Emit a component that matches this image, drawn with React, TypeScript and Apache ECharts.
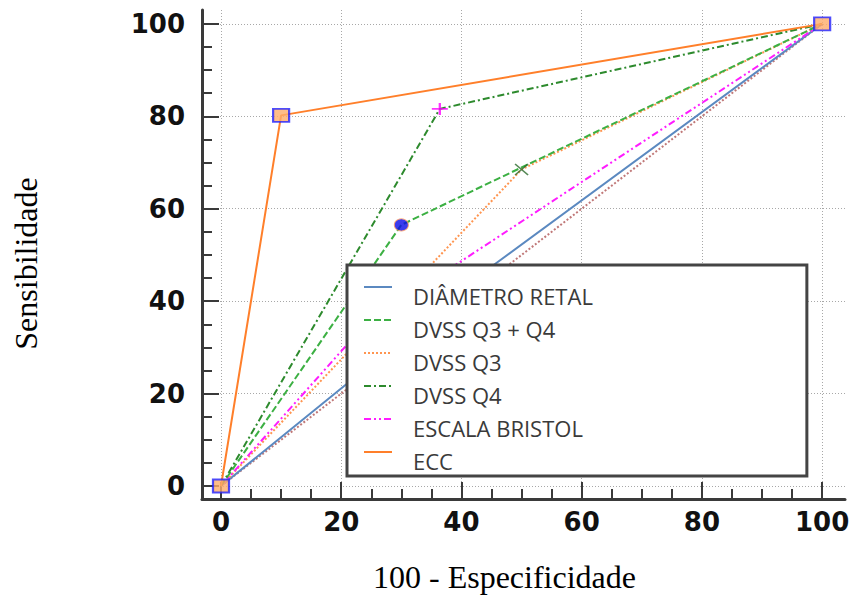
import React, { useEffect, useRef } from "react";
import * as echarts from "echarts";

// ---- data ----
const tickValues = [0, 20, 40, 60, 80, 100];
const seriesNames = ["DIÂMETRO RETAL", "DVSS Q3 + Q4", "DVSS Q3", "DVSS Q4", "ESCALA BRISTOL", "ECC"];

const diametroRetal = [[0, 0], [44.5, 47], [100, 100]];
const dvssQ3Q4 = [[0, 0], [30, 56.5], [100, 100]];
const dvssQ3 = [[0, 0], [50, 68.5], [100, 100]];
const dvssQ4 = [[0, 0], [36.4, 81.6], [100, 100]];
const escalaBristol = [[0, 0], [24, 35], [100, 100]];
const ecc = [[0, 0], [10, 80.2], [100, 100]];
const referenceLine = [[0, 0], [100, 100]];

const eccPoints = [[0, 0], [10, 80.2], [100, 100]];
const q3q4Point = [[30, 56.5]];
const q3Point = [[50, 68.5]];
const q4Point = [[36.4, 81.6]];

const xTitle = "100 - Especificidade";
const yTitle = "Sensibilidade";

export default function App() {
  const ref = useRef<HTMLDivElement>(null);

  useEffect(() => {
    if (!ref.current) return;
    const chart = echarts.init(ref.current, undefined, { renderer: "svg" });

    const axisCommon = {
      type: "value" as const,
      axisLine: { show: true, onZero: false, lineStyle: { color: "#3a3a3a", width: 3 } },
      axisTick: {
        show: true,
        inside: true,
        length: 17,
        customValues: tickValues,
        lineStyle: { color: "#3a3a3a", width: 2 },
      },
      minorTick: { show: true, splitNumber: 4, length: 10, lineStyle: { color: "#3a3a3a", width: 2 } },
      splitLine: { show: true, lineStyle: { color: "#a8a8a8", width: 1, type: [1, 2] } },
      axisLabel: {
        customValues: tickValues,
        formatter: (v: number) => (Math.abs(v % 20) < 1e-9 ? String(v) : ""),
        color: "#111",
        fontFamily: "DejaVu Sans",
        fontWeight: "bold" as const,
        fontSize: 26,
      },
      nameLocation: "middle" as const,
      nameTextStyle: { fontFamily: "Liberation Serif", fontSize: 32, color: "#000" },
    };

    const line = (name: string, data: number[][], color: string, type: any, width = 2) => ({
      name,
      type: "line" as const,
      data,
      symbol: "none",
      showSymbol: false,
      lineStyle: { color, width, type },
      itemStyle: { color },
      z: 3,
    });

    chart.setOption({
      animation: false,
      backgroundColor: "#fff",
      grid: { left: 202, right: 10, top: 10, bottom: 98 },
      xAxis: {
        ...axisCommon,
        min: -3.16,
        max: 103.8,
        name: xTitle,
        nameGap: 62,
        axisLabel: { ...axisCommon.axisLabel, margin: 10 },
        nameTextStyle: { ...axisCommon.nameTextStyle, padding: [0, 38, 0, 0] },
      },
      yAxis: {
        ...axisCommon,
        min: -2.81,
        max: 103.0,
        name: yTitle,
        nameGap: 160,
        axisLabel: { ...axisCommon.axisLabel, margin: 17 },
        nameTextStyle: { ...axisCommon.nameTextStyle, padding: [0, 18, 0, 0] },
      },
      legend: {
        data: seriesNames,
        orient: "vertical",
        left: 347,
        top: 265,
        itemWidth: 28,
        itemHeight: 14,
        itemGap: -7,
        selectedMode: false,
        backgroundColor: "#fff",
        borderColor: "#444",
        borderWidth: 3,
        borderRadius: 0,
        padding: [2, 214, 4, 16],
        itemStyle: { opacity: 0, borderWidth: 0 },
        formatter: "{t|{name}}",
        textStyle: {
          fontFamily: "Open Sans",
          fontSize: 22,
          lineHeight: 22,
          color: "#3a3a3a",
          padding: [18, 0, 0, 16],
          rich: {
            t: { fontFamily: "Open Sans", fontSize: 22, lineHeight: 22, color: "#3a3a3a" },
          },
        },
        z: 10,
      },
      series: [
        {
          name: "ref",
          type: "line",
          data: referenceLine,
          symbol: "none",
          lineStyle: { color: "#c07878", width: 2, type: [2, 2] },
          z: 2,
        },
        line(seriesNames[0], diametroRetal, "#5b89c0", "solid", 2),
        line(seriesNames[2], dvssQ3, "#ff9550", [2, 2], 2),
        line(seriesNames[4], escalaBristol, "#ff1cff", [7, 3, 2, 3, 2, 3], 2),
        line(seriesNames[1], dvssQ3Q4, "#3cb043", [7, 3], 2),
        line(seriesNames[3], dvssQ4, "#2d8a2d", [7, 3, 2, 3], 2),
        line(seriesNames[5], ecc, "#ff7f2a", "solid", 2),
        {
          name: "m-q3",
          type: "scatter",
          data: q3Point,
          symbol: "path://M0,0L10,10M10,0L0,10",
          symbolSize: [13, 11],
          itemStyle: { color: "#2d6b2d", borderColor: "#2d6b2d", borderWidth: 1.5 },
          z: 5,
        },
        {
          name: "m-q4",
          type: "scatter",
          data: q4Point,
          symbol: "path://M0,5L10,5M5,0L5,10",
          symbolSize: [16, 12],
          itemStyle: { color: "#ff00ff", borderColor: "#ff00ff", borderWidth: 2 },
          z: 5,
        },
        {
          name: "m-q3q4",
          type: "scatter",
          data: q3q4Point,
          symbol: "circle",
          symbolSize: [14, 12],
          itemStyle: { color: "#0a0ae8", borderColor: "#ff9a60", borderWidth: 1 },
          z: 5,
        },
        {
          name: "m-ecc",
          type: "scatter",
          data: eccPoints,
          symbol: "rect",
          symbolSize: [16, 13],
          itemStyle: { color: "#ffad6a", borderColor: "#2222ff", borderWidth: 2 },
          z: 5,
        },
      ],
    });

    return () => chart.dispose();
  }, []);

  return (
    <div
      ref={ref}
      style={{ position: "fixed", left: 0, top: 0, width: 855, height: 598, background: "#fff" }}
    />
  );
}
